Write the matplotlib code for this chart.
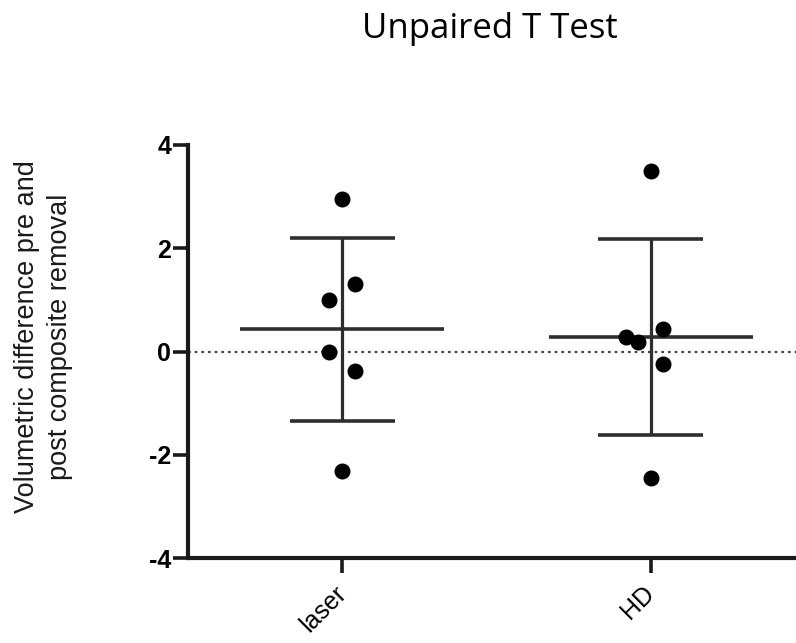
import matplotlib
matplotlib.use("Agg")
import matplotlib.pyplot as plt
import numpy as np

# data
groups = ["laser", "HD"]
laser_vals = [2.95, 1.30, 0.99, 0.00, -0.37, -2.31]
hd_vals = [3.49, 0.29, 0.19, 0.43, -0.25, -2.46]

# horizontal scatter of the dots around each group centre
laser_jit = [0.0, 0.042, -0.042, -0.042, 0.042, 0.0]
hd_jit = [0.0, -0.081, -0.042, 0.039, 0.039, 0.0]

plt.rcParams["font.family"] = ["Liberation Sans", "DejaVu Sans"]
ink = "#1a1a1a"
bar_col = "#2e2e2e"

fig = plt.figure(figsize=(7.96, 6.43), dpi=100)
ax = fig.add_axes([188 / 796, 1 - 558 / 643, 1 - 188 / 796, (558 - 145) / 643])

for x0, vals, jit in [(0, laser_vals, laser_jit), (1, hd_vals, hd_jit)]:
    vals = np.asarray(vals, float)
    m = vals.mean()
    sd = vals.std(ddof=1)
    ax.plot([x0 - 0.33, x0 + 0.33], [m, m], color=bar_col, lw=2.6, solid_capstyle="butt", zorder=3)
    ax.plot([x0, x0], [m - sd, m + sd], color=bar_col, lw=2.3, solid_capstyle="butt", zorder=3)
    for yy in (m - sd, m + sd):
        ax.plot([x0 - 0.17, x0 + 0.17], [yy, yy], color=bar_col, lw=2.6, solid_capstyle="butt", zorder=3)
    ax.plot(x0 + np.asarray(jit), vals, "o", ms=10.5, color="black", zorder=4)

ax.axhline(0, color="#444444", lw=1.6, ls=(0, (1.2, 1.8)), zorder=1)

ax.set_xlim(-0.5, 1.47)
ax.set_ylim(-4, 4)
ax.set_yticks([-4, -2, 0, 2, 4])
ax.set_yticklabels(["-4", "-2", "0", "2", "4"], fontsize=18, fontweight="bold")
ax.set_xticks([0, 1])
ax.set_xticklabels(groups, fontsize=18, rotation=45, ha="right", va="center",
                   rotation_mode="anchor")

for side in ("top", "right"):
    ax.spines[side].set_visible(False)
for side in ("left", "bottom"):
    ax.spines[side].set_linewidth(3)
    ax.spines[side].set_color(ink)
ax.tick_params(axis="both", length=11, width=2.6, color=ink, pad=1)
ax.tick_params(axis="x", pad=12)

fig.text(44 / 796, 1 - 337 / 643, "Volumetric difference pre and\npost composite removal",
         rotation=90, ha="center", va="center", multialignment="center", fontsize=19.5,
         color=ink, linespacing=1.35)
fig.text(490 / 796, 1 - 29 / 643, "Unpaired T Test", ha="center", va="center",
         fontsize=25, family=["Open Sans", "DejaVu Sans"], color="black")

fig.savefig("out.png", dpi=100)
